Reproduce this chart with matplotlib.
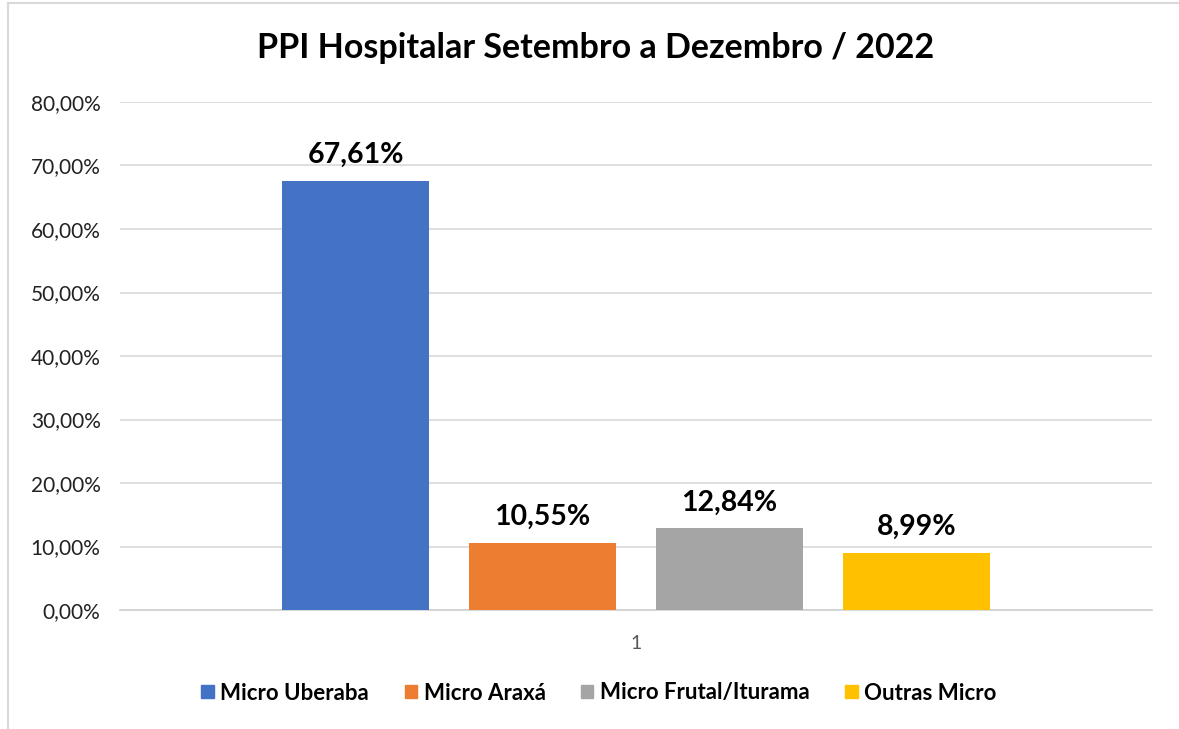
import matplotlib
matplotlib.use("Agg")
import matplotlib.pyplot as plt
from matplotlib.lines import Line2D
from matplotlib.patches import Patch

series = ["Micro Uberaba", "Micro Araxá", "Micro Frutal/Iturama", "Outras Micro"]
values = [67.61, 10.55, 12.84, 8.99]
colors = ["#4472C4", "#ED7D31", "#A5A5A5", "#FFC000"]
yticks = [0, 10, 20, 30, 40, 50, 60, 70, 80]

plt.rcParams["font.family"] = ["Lato", "DejaVu Sans"]

fig = plt.figure(figsize=(11.79, 7.29), dpi=100)
ax = fig.add_axes([120 / 1179, 1 - 610 / 729, 1032 / 1179, 508 / 729])

pos = [-1.5, -0.5, 0.5, 1.5]
ax.bar(pos, values, width=0.79, color=colors, zorder=3)
for p, v in zip(pos, values):
    ax.annotate(f"{v:.2f}%".replace(".", ","), (p, v), xytext=(0, 13),
                textcoords="offset points", ha="center", va="baseline",
                fontsize=20.5, fontweight="bold", color="black")

ax.set_xlim(-2.76, 2.76)
ax.set_ylim(0, 80)
ax.set_yticks(yticks)
ax.set_yticklabels([f"{t:.2f}%".replace(".", ",") for t in yticks], fontsize=15, color="#222222")
ax.set_xticks([0])
ax.set_xticklabels(["1"], fontsize=14, color="#595959")
ax.tick_params(length=0, pad=14)
ax.tick_params(axis="x", pad=18)
ax.grid(axis="y", color="#D9D9D9", linewidth=1.2, zorder=0)
for s in ["top", "right", "left"]:
    ax.spines[s].set_visible(False)
ax.spines["bottom"].set_color("#D0D0D0")
ax.spines["bottom"].set_linewidth(1.2)

fig.text(596 / 1179, 1 - 48 / 729, "PPI Hospitalar Setembro a Dezembro / 2022",
         ha="center", va="center", fontsize=24.5, fontweight="bold")

handles = [Patch(facecolor=c, edgecolor=c) for c in colors]
fig.legend(handles, series, loc="center", bbox_to_anchor=(599 / 1179, 1 - 693 / 729),
           ncol=4, frameon=False, prop={"size": 16, "weight": "bold"},
           handlelength=0.55, handleheight=0.55, handletextpad=0.3, columnspacing=1.6)

fig.add_artist(Line2D([8 / 1179, 8 / 1179], [0, 1 - 3 / 729], color="#D9D9D9", linewidth=1.5))
fig.add_artist(Line2D([8 / 1179, 1], [1 - 3 / 729, 1 - 3 / 729], color="#D9D9D9", linewidth=1.5))

fig.savefig("out.png", dpi=100)
